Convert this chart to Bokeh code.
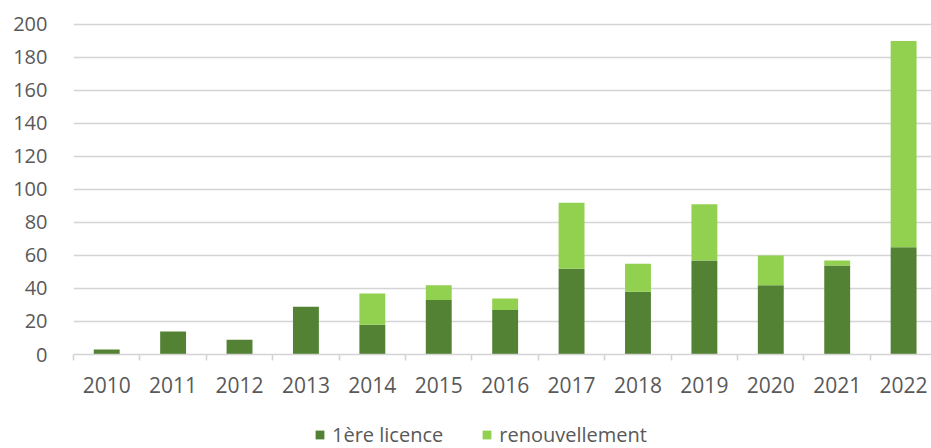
from bokeh.plotting import figure
from bokeh.models import Range1d, FixedTicker, Legend, LegendItem, ColumnDataSource
from bokeh.layouts import column
from bokeh.embed import file_html
from bokeh.resources import INLINE

years = [2010, 2011, 2012, 2013, 2014, 2015, 2016, 2017, 2018, 2019, 2020, 2021, 2022]
premiere = [3, 14, 9, 29, 18, 33, 27, 52, 38, 57, 42, 54, 65]
renouvellement = [0, 0, 0, 0, 19, 9, 7, 40, 17, 34, 18, 3, 125]
series = ["1ère licence", "renouvellement"]
colors = ["#548235", "#92d050"]
y_ticks = [0, 20, 40, 60, 80, 100, 120, 140, 160, 180, 200]

src = ColumnDataSource(dict(x=years, premiere=premiere, renouvellement=renouvellement))

FONT = "Open Sans"
TXT = "#595959"
GRID = "#d4d4d4"

p = figure(width=931, height=414, output_backend="svg", toolbar_location=None,
           x_range=Range1d(years[0] - 0.5, years[-1] + 0.42),
           y_range=Range1d(0, 201.2),
           min_border_left=73, min_border_right=0, min_border_top=22, min_border_bottom=60)
p.outline_line_color = None
p.background_fill_color = "white"
p.border_fill_color = "white"

r = p.vbar_stack(["premiere", "renouvellement"], x="x", width=0.39, source=src,
                 color=colors, line_color=None)

# y axis
p.yaxis.ticker = FixedTicker(ticks=y_ticks)
p.yaxis.axis_line_color = None
p.yaxis.major_tick_line_color = None
p.yaxis.minor_tick_line_color = None
p.yaxis.major_label_text_font = FONT
p.yaxis.major_label_text_font_size = "20px"
p.yaxis.major_label_text_color = TXT
p.yaxis.major_label_standoff = 20

p.ygrid.ticker = FixedTicker(ticks=y_ticks)
p.ygrid.grid_line_color = GRID
p.ygrid.grid_line_width = 1.6
p.xgrid.grid_line_color = None

# x axis
p.xaxis.ticker = FixedTicker(ticks=years, minor_ticks=[y - 0.5 for y in years] + [years[-1] + 0.5])
p.xaxis.major_label_overrides = {y: str(y) for y in years}
p.xaxis.axis_line_color = GRID
p.xaxis.axis_line_width = 1.6
p.xaxis.major_tick_line_color = None
p.xaxis.minor_tick_line_color = GRID
p.xaxis.minor_tick_line_width = 1.6
p.xaxis.minor_tick_out = 6
p.xaxis.minor_tick_in = 0
p.xaxis.major_label_text_font = FONT
p.xaxis.major_label_text_font_size = "21px"
p.xaxis.major_label_text_color = TXT
p.xaxis.major_label_standoff = 16

# legend strip below the chart (same series, drawn outside its visible range)
lg = figure(width=931, height=34, output_backend="svg", toolbar_location=None,
            x_range=Range1d(0, 1), y_range=Range1d(0, 1),
            min_border_left=0, min_border_right=0, min_border_top=0, min_border_bottom=0)
lg.axis.visible = False
lg.grid.grid_line_color = None
lg.outline_line_color = None
lg.border_fill_color = "white"
lr = lg.vbar_stack(["premiere", "renouvellement"], x="x", width=0.39, source=src,
                   color=colors, line_color=None)

legend = Legend(items=[LegendItem(label=series[i], renderers=[lr[i]]) for i in range(2)],
                orientation="horizontal", location=(241, 0),
                label_text_font=FONT, label_text_font_size="20px", label_text_color=TXT,
                glyph_width=11, glyph_height=11, spacing=38, label_standoff=7,
                border_line_color=None, background_fill_alpha=0, margin=0, padding=0)
lg.add_layout(legend, "center")

layout = column(p, lg, spacing=0)
open("out.html", "w").write(file_html(layout, INLINE))
